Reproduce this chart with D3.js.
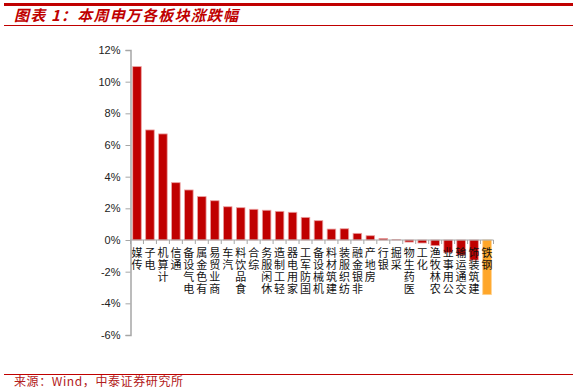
<!DOCTYPE html>
<html>
<head>
<meta charset="utf-8">
<script src="https://cdn.jsdelivr.net/npm/d3@7"></script>
<style>
  body { margin: 0; background: #fff; }
  svg { display: block; }
</style>
</head>
<body>
<svg id="chart" width="577" height="388"></svg>
<script>
// industry names (shenwan level 1)
var sectors = ['传媒', '电子', '计算机', '通信', '电气设备', '有色金属', '商业贸易', '汽车',
    '食品饮料', '综合', '休闲服务', '轻工制造', '家用电器', '国防军工', '机械设备', '建筑材料',
    '纺织服装', '非银金融', '房地产', '银行', '采掘', '医药生物', '化工', '农林牧渔',
    '公用事业', '交通运输', '建筑装饰', '钢铁'];
// weekly change, %
var changes = [10.95, 6.95, 6.7, 3.62, 3.16, 2.74, 2.48, 2.1,
    2.04, 1.94, 1.88, 1.81, 1.75, 1.43, 1.22, 0.69,
    0.71, 0.42, 0.27, 0.1, 0.02, -0.13, -0.19, -0.36,
    -0.8, -0.95, -1.27, -3.45];
// sector drawn in orange
var highlight = ['钢铁'];
var yTicks = [12, 10, 8, 6, 4, 2, 0, -2, -4, -6];

var svg = d3.select('#chart');
var red = '#C00000';

// header lines + title
svg.append('rect').attr('x', 4).attr('y', 3).attr('width', 569).attr('height', 3).attr('fill', red);
svg.append('line').attr('x1', 4).attr('x2', 573).attr('y1', 25.5).attr('y2', 25.5)
    .attr('stroke', red).attr('stroke-width', 1);
svg.append('text')
    .attr('x', 14).attr('y', 21)
    .attr('fill', red)
    .attr('font-family', 'Noto Sans CJK SC')
    .attr('font-weight', 'bold')
    .attr('font-style', 'italic')
    .attr('font-size', 15)
    .attr('letter-spacing', 1.2)
    .text('图表 1：本周申万各板块涨跌幅');

// footer
svg.append('line').attr('x1', 4).attr('x2', 573).attr('y1', 374.5).attr('y2', 374.5)
    .attr('stroke', red).attr('stroke-width', 1);
svg.append('text')
    .attr('x', 14).attr('y', 386)
    .attr('fill', '#B22020')
    .attr('font-family', 'Noto Sans CJK SC')
    .attr('font-size', 12)
    .attr('letter-spacing', 0.6)
    .text('来源：Wind，中泰证券研究所');

// scales
var x = d3.scaleBand()
    .domain(sectors)
    .range([130.5, 493.5])
    .paddingInner(0.34)
    .paddingOuter(0.17);

var y = d3.scaleLinear()
    .domain([-6, 12])
    .range([335, 50]);

var g = svg.append('g');

// bars
g.selectAll('rect.bar')
    .data(sectors)
    .enter().append('rect')
    .attr('class', 'bar')
    .attr('x', function(d) { return x(d); })
    .attr('width', x.bandwidth())
    .attr('y', function(d, i) { return y(Math.max(0, changes[i])); })
    .attr('height', function(d, i) { return Math.abs(y(changes[i]) - y(0)); })
    .attr('fill', function(d) { return highlight.indexOf(d) >= 0 ? '#FFA629' : red; })
    .attr('stroke', function(d) { return highlight.indexOf(d) >= 0 ? '#FFD08A' : '#EBA0A0'; })
    .attr('stroke-width', 0.8);

// zero axis with category ticks
var step = x.step();
var zeroY = y(0);
g.append('line')
    .attr('x1', 130).attr('x2', 493.5)
    .attr('y1', zeroY).attr('y2', zeroY)
    .attr('stroke', '#A6A6A6').attr('stroke-width', 1.2);
g.selectAll('line.xtick')
    .data(d3.range(sectors.length + 1))
    .enter().append('line')
    .attr('class', 'xtick')
    .attr('x1', function(i) { return x.range()[0] + i * step; })
    .attr('x2', function(i) { return x.range()[0] + i * step; })
    .attr('y1', zeroY).attr('y2', zeroY + 4)
    .attr('stroke', '#A6A6A6').attr('stroke-width', 1);

// y axis
var yAxis = g.append('g')
    .attr('transform', 'translate(130.5,0)')
    .call(d3.axisLeft(y)
        .tickValues(yTicks)
        .tickSize(5)
        .tickPadding(5)
        .tickFormat(function(d) { return d + '%'; }));
yAxis.select('.domain').attr('stroke', '#A6A6A6').attr('stroke-width', 1.5);
yAxis.selectAll('.tick line').attr('stroke', '#A6A6A6');
yAxis.selectAll('.tick text')
    .attr('fill', '#222')
    .attr('font-family', 'Arial, Liberation Sans, sans-serif')
    .attr('font-size', 11);

// category labels: upright characters stacked, reading bottom to top, ending near the axis
var charH = 12;
sectors.forEach(function(name, i) {
    var chars = name.split('');
    var n = chars.length;
    var cx = x(name) + x.bandwidth() / 2;
    chars.forEach(function(c, j) {
        g.append('text')
            .attr('x', cx)
            .attr('y', zeroY + 17 + (n - 1 - j) * charH)
            .attr('text-anchor', 'middle')
            .attr('font-family', 'Noto Sans CJK SC')
            .attr('font-size', 11)
            .attr('fill', '#111')
            .text(c);
    });
});
</script>
</body>
</html>
